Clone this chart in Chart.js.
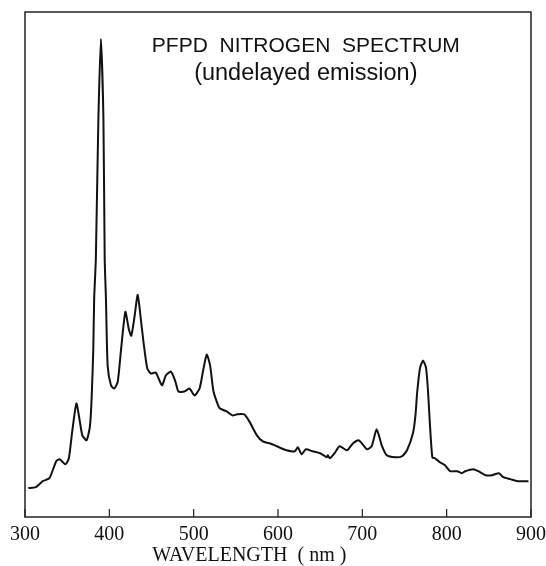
<!DOCTYPE html>
<html>
<head>
<meta charset="utf-8">
<script src="https://cdn.jsdelivr.net/npm/chart.js@4.4.1/dist/chart.umd.min.js"></script>
<style>
  html, body { margin: 0; padding: 0; background: #fff; }
  #wrap { width: 546px; height: 566px; }
</style>
</head>
<body>
<div id="wrap"><canvas id="spectrum"></canvas></div>
<script>
// PFPD nitrogen spectrum (arbitrary intensity units)
const wavelengths = [
  304, 313, 321, 329, 337, 341, 348, 352, 356, 361, 365, 368, 373, 377, 379, 381, 382, 384, 387, 390,
  393, 394.5, 396, 398, 402, 406, 410, 414, 419, 423, 426, 430, 433.5, 436, 440, 445, 449.5, 455, 458.5, 462.5,
  467, 473, 478, 482, 489, 495, 501, 507, 511, 515.5, 519.5, 523.5, 529, 531, 539, 546, 551, 560, 566, 575,
  582, 590, 598.5, 610, 620, 623.5, 628, 633, 641, 650, 658, 659, 661.5, 667, 673, 682, 689, 696, 705.5, 711,
  717, 723, 729, 739, 747, 753, 760, 763, 765, 768.5, 772, 775.5, 778, 780, 783, 786, 792, 798, 804, 812.5,
  818, 822, 831.5, 837.5, 846, 854, 862, 867, 875.5, 884, 897
];
const intensity = [
  29, 30, 36, 39, 56, 58, 53, 59, 86, 114, 96, 82, 77, 91, 119, 169, 219, 259, 399, 480,
  399, 259, 219, 152, 132, 129, 136, 169, 206, 189, 182, 202, 223, 209, 179, 149, 144, 145, 139, 132,
  142, 146, 137, 126, 126, 129, 122, 129, 146, 163, 152, 126, 112, 109, 106, 102, 103, 103, 96, 82,
  76, 74, 71, 67, 66, 70, 63, 68, 66, 64, 60, 62, 59, 64, 71, 67, 74, 77, 68, 71,
  88, 72, 62, 60, 61, 67, 84, 102, 125, 150, 157, 150, 125, 95, 60, 59, 55, 52, 46, 46,
  44, 46, 48, 46, 42, 42, 44, 40, 38, 36, 36
];
const xTicks = [300, 400, 500, 600, 700, 800, 900];
const titleLines = ['PFPD  NITROGEN  SPECTRUM', '(undelayed emission)'];
const xTitle = 'WAVELENGTH  ( nm )';

const points = wavelengths.map((w, i) => ({ x: w, y: intensity[i] }));

// frame, inward ticks and in-plot texts
const decorations = {
    id: 'decorations',
    afterDraw(chart) {
        const ctx = chart.ctx;
        const a = chart.chartArea;
        const xs = chart.scales.x;
        ctx.save();
        ctx.strokeStyle = '#222';
        ctx.lineWidth = 1.5;
        ctx.strokeRect(a.left, a.top, a.right - a.left, a.bottom - a.top);
        ctx.lineWidth = 1.2;
        ctx.beginPath();
        for (const t of xTicks) {
            const px = xs.getPixelForValue(t);
            ctx.moveTo(px, a.bottom);
            ctx.lineTo(px, a.bottom - 8);
        }
        ctx.stroke();

        ctx.fillStyle = '#111';
        ctx.textAlign = 'center';
        ctx.textBaseline = 'alphabetic';
        ctx.font = '21px "Liberation Sans", Arial, sans-serif';
        ctx.fillText(titleLines[0], xs.getPixelForValue(633), 52);
        ctx.font = '23.5px "Liberation Sans", Arial, sans-serif';
        ctx.fillText(titleLines[1], xs.getPixelForValue(633), 80);

        ctx.font = '20px "Liberation Serif", "Times New Roman", serif';
        ctx.fillText(xTitle, xs.getPixelForValue(566), 561);
        ctx.restore();
    }
};

new Chart(document.getElementById('spectrum').getContext('2d'), {
    type: 'line',
    data: {
        datasets: [{
            data: points,
            borderColor: '#111',
            borderWidth: 2,
            pointRadius: 0,
            tension: 0.2,
            fill: false,
        }]
    },
    options: {
        responsive: true,
        maintainAspectRatio: false,
        animation: false,
        layout: { padding: { left: 25, right: 0, top: 12, bottom: 19 } },
        scales: {
            x: {
                type: 'linear',
                min: 300,
                max: 900,
                afterBuildTicks: s => { s.ticks = xTicks.map(v => ({ value: v })); },
                grid: { display: false, drawTicks: true, tickLength: 6 },
                border: { display: false },
                ticks: {
                    color: '#111',
                    padding: 0,
                    maxRotation: 0,
                    font: { family: '"Liberation Serif", "Times New Roman", serif', size: 20 },
                },
            },
            y: {
                display: false,
                min: 0,
                max: 507,
            }
        },
        plugins: {
            legend: { display: false },
            tooltip: { enabled: false },
        }
    },
    plugins: [decorations]
});
</script>
</body>
</html>
